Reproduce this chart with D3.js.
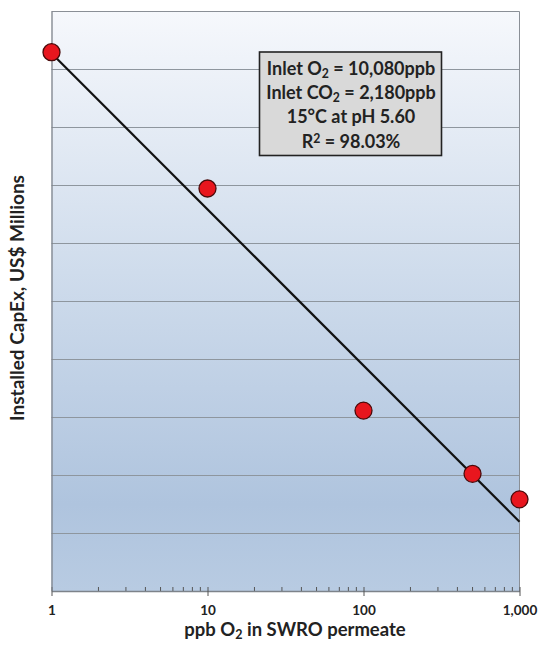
<!DOCTYPE html>
<html><head><meta charset="utf-8">
<script src="https://cdn.jsdelivr.net/npm/d3@7"></script>
<style>
html,body{margin:0;padding:0;background:#fff;}
svg{display:block;font-family:Lato,"Open Sans",sans-serif;}
</style></head>
<body><svg id="chart" width="539" height="648"></svg>
<script>
// ---- data ----
const o2ppb = [1, 10, 100, 500, 1000];
const capex = [9.29, 6.94, 3.11, 2.02, 1.58];
const xTickValues = [1, 10, 100, 1000];
const xTickLabels = ["1", "10", "100", "1,000"];
const gridLevels = [1, 2, 3, 4, 5, 6, 7, 8, 9];
const yDomain = [0, 10];
const xDomain = [1, 1000];
const boxLines = [
  [["Inlet O", 0], ["2", 1], [" = 10,080ppb", 0]],
  [["Inlet CO", 0], ["2", 1], [" = 2,180ppb", 0]],
  [["15°C at pH 5.60", 0]],
  [["R", 0], ["2", 2], [" = 98.03%", 0]]
];
const xTitle = [["ppb O", 0], ["2", 1], [" in SWRO permeate", 0]];
const yTitle = "Installed CapEx, US$ Millions";

// ---- layout ----
const L = 51.5, R = 519.5, T = 11, B = 591;
const svg = d3.select("#chart");
const x = d3.scaleLog().domain(xDomain).range([L, R]);
const y = d3.scaleLinear().domain(yDomain).range([B, T]);

const defs = svg.append("defs");
const grad = defs.append("linearGradient").attr("id", "bg").attr("x1", 0).attr("y1", 0).attr("x2", 0).attr("y2", 1);
grad.append("stop").attr("offset", "0%").attr("stop-color", "#f6f8fc");
grad.append("stop").attr("offset", "45%").attr("stop-color", "#cfdcec");
grad.append("stop").attr("offset", "85%").attr("stop-color", "#afc4de");
grad.append("stop").attr("offset", "100%").attr("stop-color", "#b8cbe2");

svg.append("rect").attr("x", L).attr("y", T).attr("width", R - L).attr("height", B - T).attr("fill", "url(#bg)");

// gridlines
svg.append("g").selectAll("line").data(gridLevels).join("line")
  .attr("x1", L).attr("x2", R).attr("y1", d => Math.round(y(d)) + 0.5).attr("y2", d => Math.round(y(d)) + 0.5)
  .attr("stroke", "#8e969e").attr("stroke-width", 1);

// border top/right
svg.append("path").attr("d", `M${L},${T + 0.5}H${R}V${B}`).attr("fill", "none").attr("stroke", "#8a8f96").attr("stroke-width", 1);

// x axis minor ticks (inside)
const minor = [];
for (let dec = 1; dec < 1000; dec *= 10) for (let k = 2; k <= 9; k++) minor.push(dec * k);
svg.append("g").selectAll("line").data(minor).join("line")
  .attr("x1", d => x(d)).attr("x2", d => x(d)).attr("y1", B).attr("y2", B - 4)
  .attr("stroke", "#555").attr("stroke-width", 1);

// x axis
const xAxis = d3.axisBottom(x).tickValues(xTickValues).tickFormat((d, i) => xTickLabels[i]).tickSizeInner(5).tickSizeOuter(0);
const gx = svg.append("g").attr("transform", `translate(0,${B})`).call(xAxis);
gx.select(".domain").attr("stroke", "#7d838a").attr("stroke-width", 1.3);
gx.selectAll(".tick line").attr("stroke", "#555").attr("y1", -4).attr("y2", 5);
gx.selectAll(".tick text").attr("font-family", "Lato, sans-serif").attr("font-weight", "bold").attr("font-size", 13.5).attr("fill", "#222")
  .attr("y", 23.5).attr("dy", null);

// y axis (no labels)
const yAxis = d3.axisLeft(y).tickValues([]).tickSizeOuter(0);
const gy = svg.append("g").attr("transform", `translate(${L},0)`).call(yAxis);
gy.select(".domain").attr("stroke", "#7d838a").attr("stroke-width", 1.3);

// regression line (least squares on log10 x)
const lx = o2ppb.map(Math.log10);
const mx = d3.mean(lx), my = d3.mean(capex);
const slope = d3.sum(lx, (v, i) => (v - mx) * (capex[i] - my)) / d3.sum(lx, v => (v - mx) ** 2);
const icpt = my - slope * mx;
const fit = xDomain.map(v => [v, icpt + slope * Math.log10(v)]);
svg.append("path").datum(fit)
  .attr("d", d3.line().x(d => x(d[0])).y(d => y(d[1])))
  .attr("fill", "none").attr("stroke", "#111").attr("stroke-width", 2.2);

// points
svg.append("g").selectAll("circle").data(o2ppb).join("circle")
  .attr("cx", d => x(d)).attr("cy", (d, i) => y(capex[i])).attr("r", 8.5)
  .attr("fill", "#e8161e").attr("stroke", "#4a0a0a").attr("stroke-width", 1.3);

// helpers
function richText(sel, parts) {
  parts.forEach(([t, s]) => {
    const ts = sel.append("tspan").text(t);
    if (s === 1) ts.style("font-size", "0.68em").attr("baseline-shift", "-22%");
    if (s === 2) ts.style("font-size", "0.68em").attr("baseline-shift", "42%");
  });
}
function fitSize(sel, base, target) {
  sel.attr("font-size", base);
  const w = sel.node().getBBox().width;
  const s = w > 0 ? base * target / w : base;
  return s;
}

// annotation box
svg.append("rect").attr("x", 259.5).attr("y", 52).attr("width", 182).attr("height", 103.5)
  .attr("fill", "#d9d9d9").attr("stroke", "#222").attr("stroke-width", 1.6);
const boxTexts = boxLines.map((parts, i) => {
  const t = svg.append("text").attr("x", 351).attr("y", 74.5 + i * 24.4)
    .attr("text-anchor", "middle").attr("font-family", "Lato, sans-serif").attr("font-weight", "bold")
    .attr("font-size", 15).attr("fill", "#222");
  richText(t, parts);
  return t;
});
const boxSize = Math.min(18, fitSize(boxTexts[0], 15, 174));
boxTexts.forEach(t => t.attr("font-size", boxSize));

// axis titles
const xt = svg.append("text").attr("x", 295).attr("y", 636).attr("text-anchor", "middle")
  .attr("font-weight", "bold").attr("fill", "#222");
richText(xt, xTitle);
xt.attr("font-size", Math.min(19, fitSize(xt, 16, 222)));
const yt = svg.append("text").attr("transform", "translate(23.5,298) rotate(-90)").attr("text-anchor", "middle")
  .attr("font-weight", "bold").attr("fill", "#222").text(yTitle);
yt.attr("font-size", Math.min(19, fitSize(yt, 16, 246)));
</script></body></html>
